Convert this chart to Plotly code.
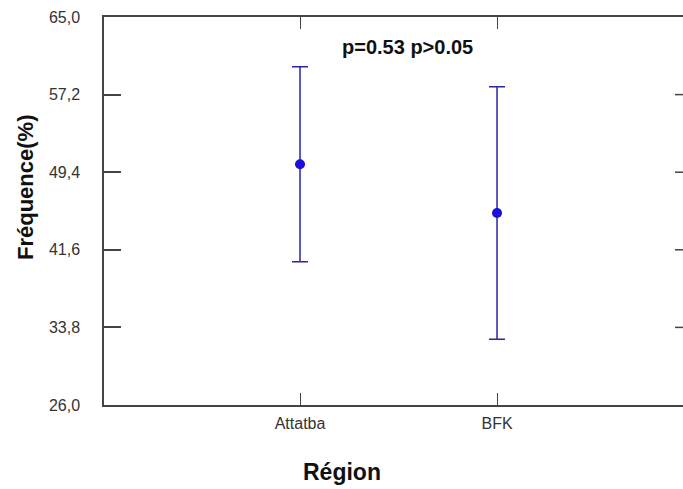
import plotly.graph_objects as go

regions = ["Attatba", "BFK"]
means = [50.2, 45.3]
errors = [9.8, 12.7]
y_ticks = [26.0, 33.8, 41.6, 49.4, 57.2, 65.0]
y_ticktext = ["26,0", "33,8", "41,6", "49,4", "57,2", "65,0"]
p_text = "p=0.53 p>0.05"

W, H = 683, 489
L, R, T, B = 104, 0, 17, 84

fig = go.Figure()
fig.add_trace(go.Scatter(
    x=[0, 1], y=means, mode="markers",
    marker=dict(color="#1a10d8", size=10, symbol="circle"),
    error_y=dict(type="data", array=errors, visible=True,
                 color="#2b25a8", thickness=1.5, width=8),
    showlegend=False,
))

axcol = "#444444"
fig.update_layout(
    width=W, height=H,
    margin=dict(l=L, r=R, t=T, b=B),
    paper_bgcolor="white", plot_bgcolor="white",
    font=dict(family="Liberation Sans, Arial, sans-serif", color="#333333"),
    xaxis=dict(
        range=[-0.995, 1.944],
        tickvals=[0, 1], ticktext=regions,
        showline=True, linecolor=axcol, linewidth=1.5,
        mirror="ticks", ticks="inside", ticklen=12, tickwidth=1,
        tickcolor=axcol, showgrid=False, zeroline=False,
        tickfont=dict(size=16, color="#333333"),
        ticklabelstandoff=3,
    ),
    yaxis=dict(
        range=[26, 65],
        tickvals=y_ticks, ticktext=y_ticktext,
        showline=True, linecolor=axcol, linewidth=1.5,
        ticks="inside", ticklen=17, tickwidth=1.5, tickcolor=axcol,
        showgrid=False, zeroline=False,
        tickfont=dict(size=16, color="#333333"),
        ticklabelstandoff=19,
    ),
)

# right-side tick stubs (axis line itself is outside the picture)
for v in y_ticks[1:-1]:
    fig.add_shape(type="line", xref="paper", yref="y",
                  x0=(675 - L) / (W - L), x1=1, y0=v, y1=v,
                  line=dict(color=axcol, width=1.5))

fig.add_annotation(text=p_text, xref="paper", yref="paper",
                   x=(407 - L) / (W - L), y=1 - (47 - T) / (H - T - B),
                   xanchor="center", yanchor="middle",
                   showarrow=False,
                   font=dict(size=20, color="#111111",
                             family="Liberation Sans, Arial, sans-serif", weight="bold"))
fig.add_annotation(text="<b>Région</b>", xref="paper", yref="paper",
                   x=(342 - L) / (W - L), y=-(472 - (H - B)) / (H - T - B),
                   xanchor="center", yanchor="middle",
                   showarrow=False, font=dict(size=23, color="#111111"))
fig.add_annotation(text="<b>Fréquence(%)</b>", xref="paper", yref="paper",
                   x=-(L - 25) / (W - L), y=1 - (188 - T) / (H - T - B),
                   xanchor="center", yanchor="middle",
                   showarrow=False, textangle=-90,
                   font=dict(size=22, color="#111111"))

fig.write_html("out.html")
